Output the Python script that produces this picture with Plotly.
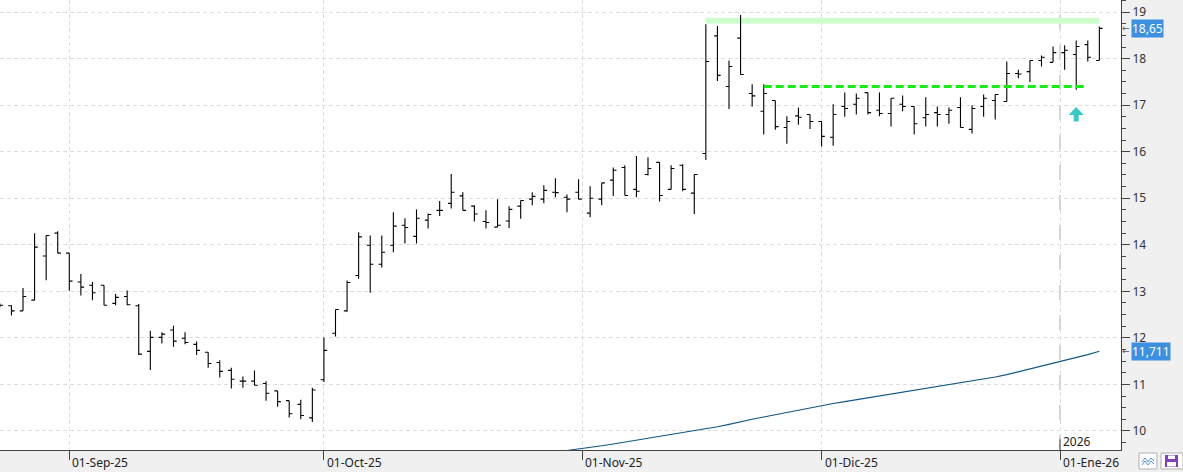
import plotly.graph_objects as go

# ---------------- data ----------------
opens = [12.70, 12.69, 12.58, 12.81, 13.76, 14.25, 13.82, 13.20, 13.13, 13.13,
         12.74, 12.89, 12.69, 11.71, 12.01, 12.17, 11.99, 11.86, 11.69, 11.47,
         11.30, 11.07, 11.07, 11.02, 10.86, 10.65, 10.57, 10.28, 11.10, 12.10,
         12.58, 13.34, 13.99, 13.58, 13.99, 14.42, 14.18, 14.53, 14.74, 14.89,
         15.05, 14.83, 14.50, 14.38, 14.51, 14.83, 14.98, 14.98, 15.13, 15.02,
         15.13, 14.68, 14.98, 15.39, 15.66, 15.19, 15.51, 15.77, 15.19, 15.71,
         15.11, 15.96, 18.49, 17.40, 18.44, 17.25, 16.87, 17.10, 16.52, 16.77,
         16.80, 16.65, 16.31, 16.97, 17.02, 17.27, 16.89, 16.82, 17.02, 16.97,
         16.73, 16.84, 16.80, 16.95, 16.48, 16.97, 17.10, 17.08, 17.68, 17.72,
         17.96, 17.92, 18.13, 18.09, 18.30, 17.96]
highs = [12.74, 12.70, 13.07, 14.25, 14.20, 14.29, 13.82, 13.37, 13.20, 13.13,
         12.94, 13.02, 12.73, 12.15, 12.12, 12.26, 12.12, 11.92, 11.69, 11.52,
         11.36, 11.17, 11.30, 11.07, 10.86, 10.65, 10.67, 10.93, 12.01, 12.61,
         13.23, 14.27, 14.20, 14.20, 14.70, 14.57, 14.76, 14.67, 14.94, 15.52,
         15.13, 14.85, 14.74, 14.98, 14.83, 14.95, 15.13, 15.28, 15.43, 15.08,
         15.41, 15.26, 15.33, 15.66, 15.71, 15.91, 15.88, 15.77, 15.71, 15.73,
         15.51, 18.74, 18.70, 17.96, 18.94, 17.45, 17.45, 17.10, 16.76, 16.95,
         16.80, 16.65, 17.02, 17.27, 17.25, 17.27, 17.27, 17.15, 17.21, 16.97,
         17.17, 16.97, 16.95, 17.17, 17.00, 17.23, 17.23, 17.94, 17.76, 17.96,
         18.07, 18.26, 18.29, 18.39, 18.39, 18.69]
lows = [12.66, 12.48, 12.58, 12.81, 13.24, 13.82, 13.01, 12.91, 12.81, 12.70,
        12.70, 12.70, 11.63, 11.31, 11.88, 11.81, 11.86, 11.63, 11.36, 11.15,
        10.91, 10.93, 10.98, 10.65, 10.52, 10.29, 10.25, 10.19, 11.05, 12.03,
        12.56, 13.27, 12.97, 13.51, 13.84, 14.03, 14.03, 14.35, 14.62, 14.78,
        14.74, 14.50, 14.35, 14.38, 14.36, 14.56, 14.85, 14.89, 15.02, 14.70,
        14.98, 14.59, 14.85, 15.05, 15.06, 15.02, 15.49, 14.93, 15.19, 15.15,
        14.66, 15.82, 17.52, 16.92, 17.66, 16.97, 16.37, 16.47, 16.17, 16.58,
        16.49, 16.11, 16.13, 16.75, 16.80, 16.80, 16.76, 16.54, 16.87, 16.37,
        16.54, 16.54, 16.60, 16.52, 16.39, 16.75, 16.69, 17.08, 17.58, 17.50,
        17.83, 17.92, 17.76, 17.33, 17.94, 17.96]
closes = [12.70, 12.58, 12.89, 13.95, 14.20, 13.82, 13.22, 13.09, 12.97, 12.70,
          12.87, 12.71, 11.65, 12.01, 12.08, 11.93, 11.90, 11.73, 11.45, 11.28,
          11.11, 11.07, 10.98, 10.81, 10.63, 10.37, 10.33, 10.88, 11.73, 12.61,
          13.19, 14.17, 13.58, 13.84, 14.40, 14.37, 14.57, 14.65, 14.74, 15.13,
          14.74, 14.66, 14.48, 14.42, 14.76, 14.95, 15.04, 15.17, 15.12, 14.98,
          14.98, 15.00, 15.33, 15.60, 15.06, 15.15, 15.64, 15.06, 15.64, 15.19,
          15.51, 17.94, 17.64, 17.83, 17.66, 17.20, 17.25, 16.54, 16.65, 16.74,
          16.65, 16.33, 16.80, 16.93, 17.15, 16.84, 16.82, 17.15, 16.97, 16.60,
          16.80, 16.80, 16.89, 16.52, 16.93, 17.15, 17.23, 17.68, 17.67, 17.96,
          18.03, 18.13, 18.18, 18.26, 18.03, 18.65]
bars = list(range(len(opens)))

# long moving average (starts at bar 49, below the visible range at first)
ma_start = 49
ma_values = [9.58, 9.61, 9.64, 9.68, 9.72, 9.76, 9.80, 9.84, 9.88, 9.92,
             9.96, 10.00, 10.04, 10.09, 10.14, 10.20, 10.25, 10.30, 10.35, 10.40,
             10.45, 10.50, 10.55, 10.59, 10.63, 10.67, 10.71, 10.75, 10.79, 10.83,
             10.87, 10.91, 10.95, 10.99, 11.03, 11.07, 11.11, 11.16, 11.21, 11.27,
             11.33, 11.39, 11.45, 11.51, 11.57, 11.64, 11.711]
ma_bars = list(range(ma_start, ma_start + len(ma_values)))

# month ticks (bar positions) and labels
tick_pos = [6, 28, 50.33, 71, 91.6]
tick_text = ["01-Sep-25", "01-Oct-25", "01-Nov-25", "01-Dic-25", "01-Ene-26"]
year_pos = 91.6
year_text = "2026"

# drawn levels
zone_bars = [61, 95]
zone_prices = [18.75, 18.88]
support_bars = [66, 93.7]
support_price = 17.40
signal_bar = [93]
signal_price = [16.96]

last_price_label = "18,65"
last_price = 18.65
ma_label = "11,711"
ma_last = 11.711

y_range = [9.59, 19.26]
x_range = [0.012, 96.87]

# ---------------- figure ----------------
fig = go.Figure()

fig.add_trace(go.Ohlc(
    x=bars, open=opens, high=highs, low=lows, close=closes,
    increasing=dict(line=dict(color="#000000", width=1.1)),
    decreasing=dict(line=dict(color="#000000", width=1.1)),
    tickwidth=0.28, hoverinfo="skip", showlegend=False,
))

fig.add_trace(go.Scatter(
    x=ma_bars, y=ma_values, mode="lines",
    line=dict(color="#0f5585", width=1.1),
    hoverinfo="skip", showlegend=False,
))

shapes = []
# resistance zone
shapes.append(dict(type="rect", xref="x", yref="y",
                   x0=zone_bars[0], x1=zone_bars[1], y0=zone_prices[0], y1=zone_prices[1],
                   fillcolor="#ccffcc", line=dict(width=0), layer="between"))
# 2026 year separator
shapes.append(dict(type="line", xref="x", yref="paper", x0=year_pos, x1=year_pos, y0=0, y1=1,
                   line=dict(color="#c4c4c4", width=1.5, dash="longdash"), layer="between"))
shapes.append(dict(type="line", xref="x", yref="paper", x0=year_pos, x1=year_pos, y0=0, y1=0.024,
                   line=dict(color="#444444", width=1), layer="above"))
# support line
shapes.append(dict(type="line", xref="x", yref="y",
                   x0=support_bars[0], x1=support_bars[1], y0=support_price, y1=support_price,
                   line=dict(color="#11ee11", width=3, dash="8px,4px"), layer="above"))
# signal arrow
for b, p in zip(signal_bar, signal_price):
    shapes.append(dict(type="path", xref="x", yref="y",
                       xsizemode="pixel", ysizemode="pixel", xanchor=b, yanchor=p,
                       path="M0,0 L7.5,-8 L2.5,-8 L2.5,-14.5 L-2.5,-14.5 L-2.5,-8 L-7.5,-8 Z",
                       fillcolor="#36caca", line=dict(width=0), layer="above"))

# bottom-right toolbar icons (paper coords)
def px(xp):
    return xp / 1121.0
def py(yp):
    return (450.0 - yp) / 450.0

shapes.append(dict(type="rect", xref="paper", yref="paper",
                   x0=px(1139), x1=px(1157), y0=py(469), y1=py(453),
                   fillcolor="#ffffff", line=dict(color="#b0b0b0", width=1)))
shapes.append(dict(type="path", xref="paper", yref="paper",
                   path="M%f,%f L%f,%f L%f,%f L%f,%f L%f,%f" % (
                       px(1142), py(462), px(1145), py(458), px(1148), py(462),
                       px(1151), py(458), px(1154), py(461)),
                   line=dict(color="#5a8fd8", width=1)))
shapes.append(dict(type="path", xref="paper", yref="paper",
                   path="M%f,%f L%f,%f L%f,%f L%f,%f L%f,%f" % (
                       px(1142), py(465), px(1145), py(461), px(1148), py(465),
                       px(1151), py(461), px(1154), py(464)),
                   line=dict(color="#5a8fd8", width=1)))
shapes.append(dict(type="rect", xref="paper", yref="paper",
                   x0=px(1161), x1=px(1183), y0=py(469), y1=py(453),
                   fillcolor="#ffffff", line=dict(color="#b0b0b0", width=1)))
shapes.append(dict(type="rect", xref="paper", yref="paper",
                   x0=px(1165), x1=px(1178), y0=py(467), y1=py(455),
                   fillcolor="#8040c0", line=dict(width=0)))
shapes.append(dict(type="rect", xref="paper", yref="paper",
                   x0=px(1168), x1=px(1175), y0=py(459), y1=py(455.5),
                   fillcolor="#ffffff", line=dict(width=0)))
shapes.append(dict(type="rect", xref="paper", yref="paper",
                   x0=px(1167), x1=px(1176), y0=py(466.5), y1=py(462),
                   fillcolor="#ffffff", line=dict(width=0)))

annotations = []
for pos, txt in zip(tick_pos, tick_text):
    annotations.append(dict(x=pos, xref="x", y=0, yref="paper", text=txt, showarrow=False,
                            xanchor="left", yanchor="middle", xshift=1, yshift=-12,
                            font=dict(family="Noto Sans", size=12, color="#222222")))
annotations.append(dict(x=year_pos, xref="x", y=0, yref="paper", text=year_text, showarrow=False,
                        xanchor="left", yanchor="middle", xshift=1, yshift=9,
                        font=dict(family="Noto Sans", size=12, color="#222222")))
for val, lab in [(last_price, last_price_label), (ma_last, ma_label)]:
    annotations.append(dict(x=1, xref="paper", y=val, yref="y", text=lab, showarrow=False,
                            xanchor="left", yanchor="middle", xshift=10,
                            bgcolor="#3d8fdf", borderpad=0,
                            font=dict(family="Noto Sans", size=12, color="#ffffff")))
    annotations.append(dict(x=1, xref="paper", y=val, yref="y", text="←", showarrow=False,
                            xanchor="left", yanchor="middle", xshift=0, borderpad=0,
                            font=dict(family="DejaVu Sans", size=9, color="#555555")))

fig.update_layout(
    width=1183, height=472, autosize=False,
    margin=dict(l=0, r=62, t=0, b=22, pad=0),
    paper_bgcolor="#f0f0f0", plot_bgcolor="#ffffff",
    showlegend=False, shapes=shapes, annotations=annotations,
    hovermode=False,
    xaxis=dict(range=x_range, rangeslider=dict(visible=False),
               tickmode="array", tickvals=tick_pos, showticklabels=False,
               ticks="outside", ticklen=9, tickcolor="#444444",
               showgrid=True, gridcolor="#dddddd", griddash="4px,3px", gridwidth=1,
               showline=True, linecolor="#444444", linewidth=1, zeroline=False, fixedrange=True),
    yaxis=dict(range=y_range, side="right", dtick=1, tick0=0,
               ticks="outside", ticklen=8, tickcolor="#444444",
               showgrid=True, gridcolor="#dddddd", griddash="4px,3px", gridwidth=1,
               showline=True, linecolor="#444444", linewidth=1, zeroline=False,
               tickfont=dict(family="Noto Sans", size=12, color="#333333"),
               minor=dict(dtick=0.25, ticks="outside", ticklen=4, tickcolor="#444444", showgrid=False),
               fixedrange=True),
)

fig.write_html("out.html", config={"displayModeBar": False})
